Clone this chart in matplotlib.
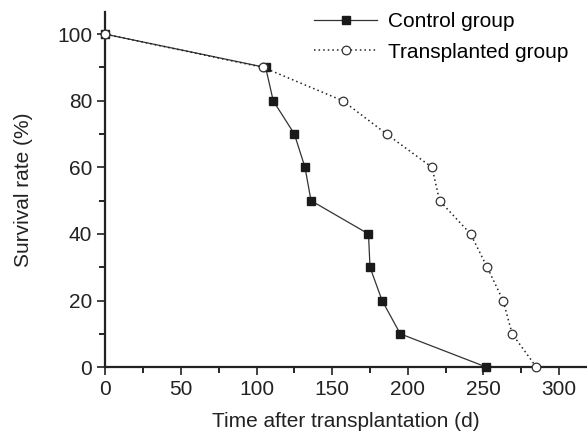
import matplotlib
matplotlib.use('Agg')
import matplotlib.pyplot as plt
from matplotlib.ticker import MultipleLocator

plt.rcParams['font.family'] = ['Liberation Sans', 'DejaVu Sans']

# survival data
control_days = [0, 106, 111, 125, 132, 136, 174, 175, 183, 195, 252]
control_rate = [100, 90, 80, 70, 60, 50, 40, 30, 20, 10, 0]
trans_days = [0, 104.5, 157, 186, 216, 221, 241.5, 252.5, 263, 269, 285]
trans_rate = [100, 90, 80, 70, 60, 50, 40, 30, 20, 10, 0]

fig = plt.figure(figsize=(5.87, 4.36), dpi=100)
ax = fig.add_axes([0.1795, 0.158, 0.8205, 0.814])

ax.plot(control_days, control_rate, color='#333333', lw=0.9, ls='-',
        marker='s', ms=5.3, mfc='#1a1a1a', mec='#1a1a1a',
        clip_on=False, zorder=3, label='Control group')
ax.plot(trans_days, trans_rate, color='#222222', lw=1.1, ls=(0, (1, 2.0)),
        marker='o', ms=6.2, mfc='white', mec='#333333', mew=0.9,
        clip_on=False, zorder=4, label='Transplanted group')

ax.set_xlim(0, 318.5)
ax.set_ylim(0, 106.6)
ax.xaxis.set_major_locator(MultipleLocator(50))
ax.xaxis.set_minor_locator(MultipleLocator(25))
ax.yaxis.set_major_locator(MultipleLocator(20))
ax.yaxis.set_minor_locator(MultipleLocator(10))
ax.tick_params(which='major', direction='out', length=6, width=1.2, labelsize=15, colors='#222222')
ax.tick_params(which='minor', direction='out', length=4, width=1.2)

for s in ['top', 'right']:
    ax.spines[s].set_visible(False)
for s in ['left', 'bottom']:
    ax.spines[s].set_linewidth(1.6)
    ax.spines[s].set_color('#222222')

ax.set_xlabel('Time after transplantation (d)', fontsize=15, color='#222222', labelpad=9)
ax.set_ylabel('Survival rate (%)', fontsize=15, color='#222222', labelpad=17)

ax.legend(loc='upper right', frameon=False,
          fontsize=15, handlelength=3.0, handletextpad=0.55, labelspacing=0.55,
          bbox_to_anchor=(0.988, 1.035), borderaxespad=0.2)

fig.savefig('out.png', dpi=100)
